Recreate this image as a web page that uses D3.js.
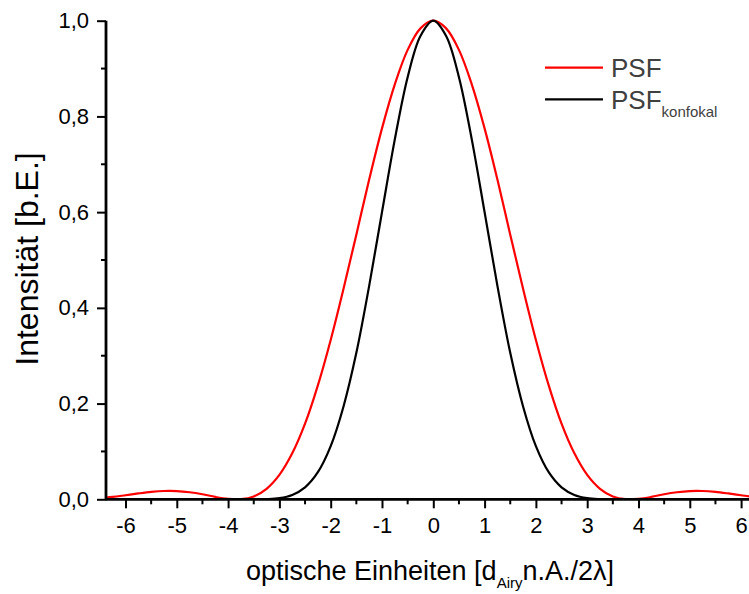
<!DOCTYPE html>
<html>
<head>
<meta charset="utf-8">
<script src="https://cdn.jsdelivr.net/npm/d3@7"></script>
<style>
  body { margin: 0; background: #fff; }
  svg { display: block; font-family: "Liberation Sans", Arial, sans-serif; }
</style>
</head>
<body>
<div id="chart"></div>
<script>
// Werte
const xValues = [-6.5, -6.25, -6, -5.75, -5.5, -5.25, -5, -4.75, -4.5, -4.25, -4, -3.75, -3.5, -3.25, -3, -2.75, -2.5, -2.25, -2, -1.75, -1.5, -1.25, -1, -0.75, -0.5, -0.25,
  0, 0.25, 0.5, 0.75, 1, 1.25, 1.5, 1.75, 2, 2.25, 2.5, 2.75, 3, 3.25, 3.5, 3.75, 4, 4.25, 4.5, 4.75, 5, 5.25, 5.5, 5.75, 6, 6.25, 6.5];
const psf = [0.0022, 0.0049, 0.0085, 0.0122, 0.0154, 0.0173, 0.0172, 0.0148, 0.0106, 0.005, 0.001, 0.0003, 0.006, 0.022, 0.051, 0.096, 0.158, 0.238, 0.333, 0.44, 0.553, 0.668, 0.775, 0.867, 0.939, 0.984,
  1, 0.984, 0.939, 0.867, 0.775, 0.668, 0.553, 0.44, 0.333, 0.238, 0.158, 0.096, 0.051, 0.022, 0.006, 0.0003, 0.001, 0.005, 0.0106, 0.0148, 0.0172, 0.0173, 0.0154, 0.0122, 0.0085, 0.0049, 0.0022];
const psfKonfokal = [0, 0, 0.0001, 0.0001, 0.0002, 0.0003, 0.0003, 0.0002, 0.0001, 0, 0, 0, 0, 0.0005, 0.0026, 0.0092, 0.025, 0.0566, 0.111, 0.194, 0.306, 0.446, 0.6, 0.752, 0.882, 0.968,
  1, 0.968, 0.882, 0.752, 0.6, 0.446, 0.306, 0.194, 0.111, 0.0566, 0.025, 0.0092, 0.0026, 0.0005, 0, 0, 0, 0, 0.0001, 0.0002, 0.0003, 0.0003, 0.0002, 0.0001, 0.0001, 0, 0];
const xTicks = [-6, -5, -4, -3, -2, -1, 0, 1, 2, 3, 4, 5, 6];
const yTicks = [0, 0.2, 0.4, 0.6, 0.8, 1.0];
const series = [
  { name: 'PSF', sub: '', values: psf, color: '#ff0000' },
  { name: 'PSF', sub: 'konfokal', values: psfKonfokal, color: '#000000' }
];

const W = 749, H = 594;
const left = 106, zeroY = 499.3, topY = 20.7;

const svg = d3.select('#chart').append('svg')
  .attr('width', W).attr('height', H);

const x = d3.scaleLinear().domain([-6.38, 6.38]).range([left, left + 12.76 * 51.3]);
const y = d3.scaleLinear().domain([0, 1]).range([zeroY, topY]);

// Clip für die Kurven
svg.append('clipPath').attr('id', 'plot-clip')
  .append('rect')
  .attr('x', left).attr('y', 0)
  .attr('width', W - left).attr('height', zeroY);

const line = d3.line()
  .x((d, i) => x(xValues[i]))
  .y(d => y(d))
  .curve(d3.curveCatmullRom.alpha(0.5));

const curves = svg.append('g').attr('clip-path', 'url(#plot-clip)');
series.forEach(s => {
  curves.append('path')
    .attr('d', line(s.values))
    .attr('fill', 'none')
    .attr('stroke', s.color)
    .attr('stroke-width', 2.2);
});

// x-Achse
const xAxis = svg.append('g').attr('transform', `translate(0, ${zeroY})`);
xAxis.call(d3.axisBottom(x).tickValues(xTicks).tickSize(9).tickPadding(9).tickFormat(d => String(d)));
const xMinor = d3.range(-6.5, 6.6, 0.5).filter(v => v % 1 !== 0 && v > -6.38);
xAxis.selectAll('.minor').data(xMinor).join('line')
  .attr('class', 'minor')
  .attr('x1', d => x(d)).attr('x2', d => x(d))
  .attr('y1', 0).attr('y2', 5)
  .attr('stroke', '#000').attr('stroke-width', 2);

// y-Achse
const yAxis = svg.append('g').attr('transform', `translate(${left}, 0)`);
yAxis.call(d3.axisLeft(y).tickValues(yTicks).tickSize(9).tickPadding(8)
  .tickFormat(d => d3.format('.1f')(d).replace('.', ',')));
const yMinor = [0.1, 0.3, 0.5, 0.7, 0.9];
yAxis.selectAll('.minor').data(yMinor).join('line')
  .attr('class', 'minor')
  .attr('x1', 0).attr('x2', -5)
  .attr('y1', d => y(d)).attr('y2', d => y(d))
  .attr('stroke', '#000').attr('stroke-width', 2);

[xAxis, yAxis].forEach(a => {
  a.select('.domain').attr('stroke', '#000').attr('stroke-width', 2.8);
  a.selectAll('.tick line').attr('stroke', '#000').attr('stroke-width', 2);
  a.selectAll('.tick text').attr('fill', '#000').style('font-size', '22px');
});
xAxis.select('.domain').attr('d', `M${left},0H${W + 20}`);
yAxis.select('.domain').attr('d', `M0,${zeroY + 1}V${topY}`);

// Achsentitel
const xTitle = svg.append('text')
  .attr('x', 430).attr('y', 580)
  .attr('text-anchor', 'middle')
  .style('font-size', '27px').attr('fill', '#000');
xTitle.append('tspan').text('optische Einheiten [d');
xTitle.append('tspan').text('Airy').attr('dy', 8).style('font-size', '15px');
xTitle.append('tspan').text('n.A./2λ]').attr('dy', -8);

svg.append('text')
  .attr('transform', 'translate(38, 259) rotate(-90)')
  .attr('text-anchor', 'middle')
  .style('font-size', '32px').attr('fill', '#000')
  .text('Intensität [b.E.]');

// Legende
const legend = svg.append('g');
series.forEach((s, i) => {
  const ly = 67.7 + i * 31.6;
  legend.append('line')
    .attr('x1', 545).attr('x2', 603)
    .attr('y1', ly).attr('y2', ly)
    .attr('stroke', s.color).attr('stroke-width', 2.2);
  const t = legend.append('text')
    .attr('x', 611).attr('y', ly + 9.5)
    .style('font-size', '26px').attr('fill', '#404040');
  t.append('tspan').text(s.name);
  if (s.sub) {
    t.append('tspan').text(s.sub).attr('dy', 8).style('font-size', '15px');
  }
});
</script>
</body>
</html>
